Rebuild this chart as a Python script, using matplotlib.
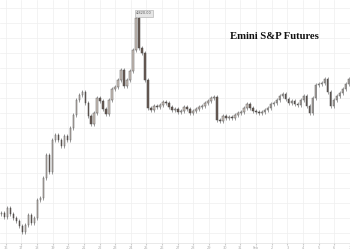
import numpy as np
import matplotlib
matplotlib.use('Agg')
import matplotlib.pyplot as plt
from matplotlib.ticker import FixedLocator

title = 'Emini S&P Futures'

# closing prices, one bar per slot
closes = [3835, 3815, 3860, 3830, 3810, 3795, 3770, 3740, 3775, 3825,
          3785, 3810, 3900, 3910, 4010, 4125, 4040, 4200, 4225, 4200,
          4170, 4220, 4200, 4260, 4325, 4400, 4425, 4440, 4385, 4320,
          4280, 4335, 4410, 4395, 4355, 4330, 4400, 4455, 4465, 4500,
          4550, 4470, 4500, 4545, 4650, 4810, 4660, 4635, 4500, 4360,
          4350, 4370, 4365, 4375, 4390, 4385, 4365, 4350, 4355, 4340,
          4345, 4365, 4355, 4335, 4345, 4355, 4365, 4370, 4385, 4395,
          4410, 4415, 4300, 4295, 4320, 4310, 4315, 4310, 4325, 4335,
          4340, 4360, 4380, 4360, 4345, 4340, 4335, 4340, 4350, 4360,
          4380, 4385, 4400, 4420, 4430, 4405, 4385, 4395, 4380, 4375,
          4400, 4420, 4370, 4335, 4410, 4475, 4480, 4485, 4505, 4440,
          4370, 4400, 4420, 4435, 4455, 4480, 4505]
first_open = 3830

tick_labels = ['16', '17', '18', '19', '20', '21', '22', '23', '24', '25', '26',
               '27', '28', '29', '30', '31', 'Feb', '2', '3', '4', '5', '6', '7']

closes = np.array(closes, dtype=float)
opens = np.concatenate([[first_open], closes[:-1]])
n = len(closes)
x = np.arange(n)

fig = plt.figure(figsize=(3.5, 2.5), dpi=100)
ax = fig.add_axes([0, 0.03, 1, 0.97])

up = closes >= opens
body = np.abs(closes - opens)
body = np.where(body < 3, 3, body)
bottom = np.minimum(opens, closes)

ax.vlines(x, bottom - 10, bottom + body + 10, color='#555555', linewidth=0.4, zorder=2)
ax.bar(x[up], body[up], bottom=bottom[up], width=0.5, color='#cfc4bc',
       edgecolor='#5a5a5a', linewidth=0.35, zorder=3)
ax.bar(x[~up], body[~up], bottom=bottom[~up], width=0.5, color='#6a5a52',
       edgecolor='#4a4a4a', linewidth=0.35, zorder=3)

# peak label
pk = int(np.argmax(closes))
ax.annotate(f'{closes[pk] + 10:,.2f}', xy=(pk, closes[pk] + 10), xytext=(0, 0.5),
            textcoords='offset points', ha='left', va='bottom', fontsize=2.5,
            color='#555555',
            bbox=dict(boxstyle='square,pad=0.4', fc='#e6e6e6', ec='#aaaaaa', lw=0.4))

ax.text(0.785, 0.848, title, transform=ax.transAxes, ha='center', va='center',
        fontsize=7.7, fontweight='bold', family='Liberation Serif', color='#111111')

ax.set_xlim(-0.5, n - 0.5)
ax.set_ylim(3687.5, 4900)

ticks = np.linspace(1.4, 1.4 + 5.23 * 22, 23)
ax.set_xticks(ticks)
ax.set_xticklabels(tick_labels, fontsize=2.5, color='#aaaaaa')
ax.yaxis.set_major_locator(FixedLocator(np.arange(3735, 4900, 75)))
ax.tick_params(axis='x', length=1.5, pad=1, color='#cccccc')
ax.tick_params(axis='y', left=False, labelleft=False)
ax.grid(True, color='#efefef', linewidth=0.5, zorder=0)
for s in ['top', 'left', 'right']:
    ax.spines[s].set_visible(False)
ax.spines['bottom'].set_color('#e0e0e0')
ax.spines['bottom'].set_linewidth(0.5)

fig.savefig('out.png', dpi=100)
